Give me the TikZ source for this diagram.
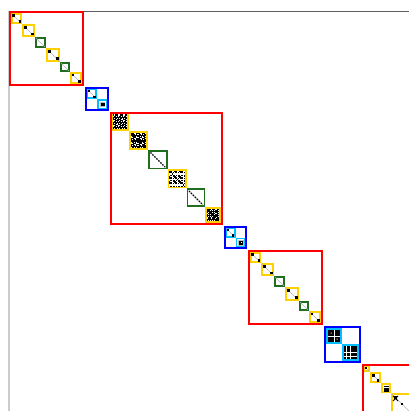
\documentclass[tikz,border=0pt]{standalone}
\usetikzlibrary{calc}
\definecolor{gold}{RGB}{255,208,0}
\definecolor{dkgreen}{RGB}{30,110,30}
\definecolor{skyc}{RGB}{0,190,255}
\tikzset{
 redbox/.style={draw=red, line width=2.2pt},
 bluebox/.style={draw=blue, line width=2.2pt},
 yelbox/.style={draw=gold, line width=1.8pt},
 grnbox/.style={draw=dkgreen, line width=1.8pt},
 cyanbox/.style={draw=skyc, line width=1.8pt},
 diagline/.style={draw=gray!60, line width=0.7pt},
 dotline/.style={draw=black, line width=1.4pt, dash pattern=on 1.4pt off 1.4pt},
}
% block on the diagonal from t1 to t2, border kept inside
\newcommand\BlockBox[4]{\draw[#1] (#2+#4,#2+#4) rectangle (#3-#4,#3-#4);}
\newcommand\DiagL{}
\renewcommand\DiagL[2]{\draw[diagline] (#1+1,#1+1) -- (#2-1,#2-1);}
\newcommand\DotAt[2]{\fill (#1-1.3,#2-1.3) rectangle (#1+1.3,#2+1.3);}
% yellow block with sparse diagonal entries
\newcommand\YSparse[2]{%
 \BlockBox{yelbox}{#1}{#2}{0.9}
 \DiagL{#1}{#2}
 \pgfmathsetmacro\posa{#1+0.25*(#2-#1)}
 \pgfmathsetmacro\posb{#1+0.72*(#2-#1)}
 \pgfmathsetmacro\posc{#1+0.80*(#2-#1)}
 \DotAt{\posa}{\posa}
 \DotAt{\posc}{\posb+0.6}}
\newcommand\GSparse[2]{%
 \BlockBox{grnbox}{#1}{#2}{0.9}
 \DiagL{#1}{#2}}
\newcommand\GDotted[2]{%
 \BlockBox{grnbox}{#1}{#2}{0.9}
 \draw[diagline] (#1+2,#1+2) -- (#2-2,#2-2);
 \draw[dotline] (#1+2.5,#1+2.5) -- (#2-2.5,#2-2.5);}
% yellow block with dense symmetric pattern
\newcommand\YDense[3]{%
 \pgfmathsetmacro\cellsz{(#2-#1-3.6)/14}
 \foreach \i in {0,...,13}{
  \foreach \j in {0,...,13}{
   \pgfmathtruncatemacro\res{(\i==\j) || (mod(\i*\j*37+(\i+\j)*11+#3,5)<3) ? 1 : 0}
   \ifnum\res=1
    \fill (#1+1.8+\i*\cellsz,#1+1.8+\j*\cellsz) rectangle ++(\cellsz,\cellsz);
   \fi
  }}
 \BlockBox{yelbox}{#1}{#2}{0.9}}
\newcommand\RedSmall[1]{%
 \begin{scope}[shift={(#1,#1)}]
  \YSparse{2}{13}
  \YSparse{13}{26}
  \GSparse{26}{37}
  \YSparse{37}{51}
  \GSparse{51}{61}
  \YSparse{61}{73}
  \BlockBox{redbox}{0}{75}{1.1}
 \end{scope}}
\begin{document}
\begin{tikzpicture}[x=1pt,y=-1pt]
\useasboundingbox (0,0) rectangle (409,411);
\clip (0,0) rectangle (409,411);
\coordinate (o) at (9,11);
\draw[gray!40, line width=1.6pt] (9,411) -- (o);
\draw[gray!75!black, line width=0.8pt] (o) -- (409,11);
\begin{scope}[shift={(9,11)}]
 % first red block
 \RedSmall{0}
 % first blue block
 \BlockBox{cyanbox}{77}{88}{0.9}
 \DiagL{77}{88}
 \DotAt{80}{80}
 \DotAt{85.5}{86}
 \BlockBox{cyanbox}{88}{99}{0.9}
 \fill[gray!50] (91,91) rectangle (96,96);
 \fill (92,92) rectangle (95.5,95.5);
 \BlockBox{bluebox}{76}{100}{1.1}
 % second red block
 \YDense{101.7}{120}{3}
 \YDense{120}{139}{5}
 \GDotted{139}{158.5}
 \YDense{158.5}{177.5}{1}
 \GDotted{177.5}{196.3}
 \YDense{196.3}{212}{4}
 \BlockBox{redbox}{101}{214}{1.1}
 % second blue block
 \BlockBox{cyanbox}{216}{226.5}{0.9}
 \DiagL{216}{226.5}
 \DotAt{219}{219}
 \DotAt{224}{224.5}
 \BlockBox{cyanbox}{226.5}{237}{0.9}
 \fill[gray!50] (229,229) rectangle (234.5,234.5);
 \fill (230,230) rectangle (234,234);
 \fill[white] (231.5,231) rectangle (232.5,232);
 \BlockBox{bluebox}{215}{238}{1.1}
 % third red block
 \RedSmall{239}
 % third blue block
 \BlockBox{cyanbox}{317}{333}{0.9}
 \fill (319,319) rectangle (331,331);
 \draw[white, line width=0.9pt] (319,325) -- (331,325) (325,319) -- (325,331);
 \fill[white] (321.5,321.5) rectangle (322.5,322.5) (327.5,327.5) rectangle (328.5,328.5);
 \BlockBox{cyanbox}{333}{350}{0.9}
 \fill (335,335) rectangle (348,348);
 \draw[white, line width=0.9pt] (335,341.5) -- (348,341.5) (341.5,335) -- (341.5,348);
 \draw[white, line width=0.6pt] (337.5,335) -- (337.5,348) (335,345) -- (348,345);
 \BlockBox{bluebox}{315}{352}{1.1}
 % fourth red block
 \BlockBox{yelbox}{354.5}{361}{0.9}
 \DiagL{354.5}{361}
 \DotAt{357}{357}
 \BlockBox{yelbox}{361}{372}{0.9}
 \DiagL{361}{372}
 \DotAt{364.5}{364.5}
 \DotAt{369}{369.5}
 \BlockBox{yelbox}{372}{382}{0.9}
 \fill (374.5,375) rectangle (380,380.5);
 \draw[white, line width=0.6pt] (374.5,376.5) -- (380,376.5);
 \BlockBox{yelbox}{382}{404}{0.9}
 \DiagL{382}{404}
 \draw[line width=0.9pt] (384,385) -- (389,390) (384,390) -- (389,385);
 \DotAt{386.5}{386.5}
 \DotAt{393}{393}
 \BlockBox{redbox}{353}{470}{1.1}
\end{scope}
\end{tikzpicture}
\end{document}
